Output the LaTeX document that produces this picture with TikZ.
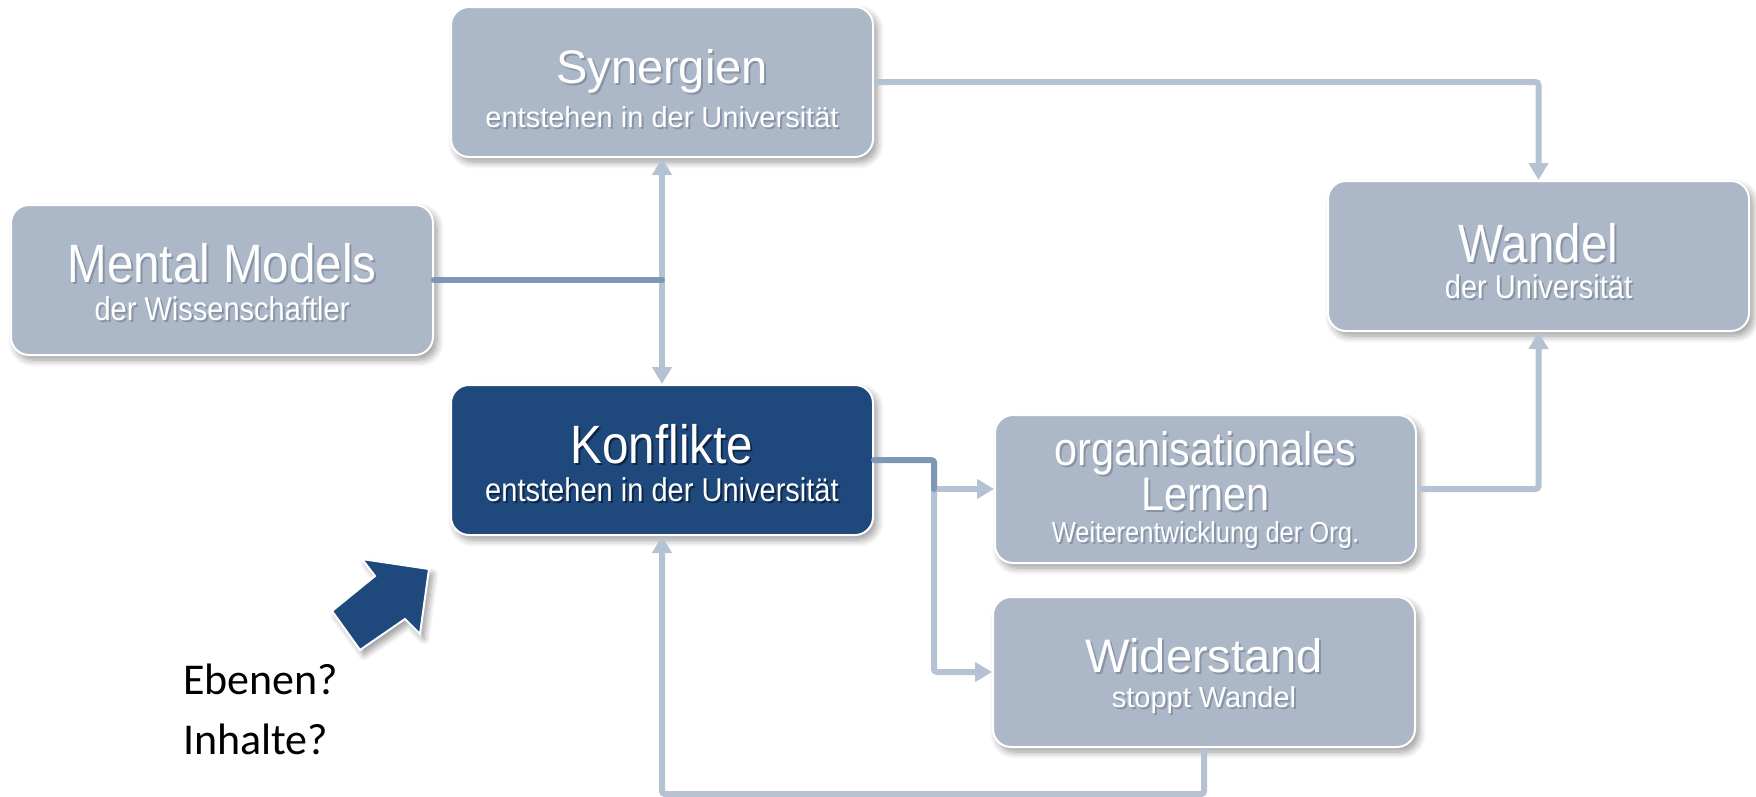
\documentclass[tikz,border=0pt]{standalone}
\usepackage{fontspec}
\setmainfont{Liberation Sans}
\newfontfamily\arialf{Liberation Sans}
\newfontfamily\narrowf[FakeStretch=0.88]{Liberation Sans}
\newfontfamily\calf{Carlito}
\usetikzlibrary{arrows.meta,shadows,shadows.blur,calc}
\definecolor{boxgray}{HTML}{ACB8C7}
\definecolor{konfblue}{HTML}{1F497D}
\definecolor{connlight}{HTML}{B4C2D4}
\definecolor{conndark}{HTML}{7E97B5}
\definecolor{tshadow}{HTML}{8894A5}
\definecolor{kshadow}{HTML}{0E2645}
\newcommand\shtx[2]{\makebox[0pt][l]{\hspace{2pt}\raisebox{-2pt}{\textcolor{#1}{#2}}}#2}
\begin{document}
\begin{tikzpicture}[x=1pt,y=-1pt,
  box/.style={rounded corners=18pt, draw=white, line width=2pt, fill=boxgray,
    minimum width=422pt, minimum height=150pt, inner sep=0pt,
    blur shadow={shadow xshift=4pt, shadow yshift=-5pt, shadow blur steps=8, shadow blur radius=7pt, shadow opacity=40}},
  ttl/.style={anchor=base, text=white, inner sep=0pt, font=\arialf\fontsize{47}{50}\selectfont},
  sub/.style={anchor=base, text=white, inner sep=0pt, font=\arialf\fontsize{29}{32}\selectfont},
  nttl/.style={anchor=base, text=white, inner sep=0pt, font=\narrowf\fontsize{54}{58}\selectfont},
  nsub/.style={anchor=base, text=white, inner sep=0pt, font=\narrowf\fontsize{33}{36}\selectfont},
  conn/.style={draw=connlight, line width=6pt, rounded corners=3pt},
  dconn/.style={draw=conndark, line width=6pt, line cap=round, rounded corners=3pt},
  tip/.tip={Triangle[width=19pt,length=17pt]},
  qtext/.style={anchor=base west, inner sep=0pt, font=\calf\fontsize{44}{50}\selectfont},
  bigarrow/.style={fill=konfblue, draw=white, line width=2pt, line join=miter,
    blur shadow={shadow xshift=4pt, shadow yshift=-5pt, shadow blur steps=8, shadow blur radius=6pt, shadow opacity=40}}
]
\useasboundingbox (0,0) rectangle (1756,796);

% boxes
\node[box] (syn) at (662,82) {};
\node[box] (mm) at (222,280) {};
\node[box, fill=konfblue] (konf) at (662,460) {};
\node[box, minimum width=421pt] (wan) at (1538.5,256) {};
\node[box, minimum width=421pt, minimum height=148pt] (org) at (1205.5,489) {};
\node[box] (wid) at (1204,672) {};

% texts
\node[ttl] (synA) at (662,83) {\shtx{tshadow}{Synergien}};
\node[sub] (synB) at (662,127) {\shtx{tshadow}{entstehen in der Universität}};
\node[nttl] (mmA) at (222,282) {\shtx{tshadow}{Mental Models}};
\node[nsub] (mmB) at (222,320) {\shtx{tshadow}{der Wissenschaftler}};
\node[nttl] (konfA) at (662,463) {\shtx{kshadow}{Konflikte}};
\node[nsub] (konfB) at (662,501) {\shtx{kshadow}{entstehen in der Universität}};
\node[nttl] (wanA) at (1538.5,262) {\shtx{tshadow}{Wandel}};
\node[nsub] (wanB) at (1538.5,298) {\shtx{tshadow}{der Universität}};
\node[nttl, font=\narrowf\fontsize{47}{50}\selectfont] (orgA) at (1205.5,465) {\shtx{tshadow}{organisationales}};
\node[nttl, font=\narrowf\fontsize{47}{50}\selectfont] (orgB) at (1205.5,510) {\shtx{tshadow}{Lernen}};
\node[nsub, font=\narrowf\fontsize{29}{32}\selectfont] (orgC) at (1205.5,542) {\shtx{tshadow}{Weiterentwicklung der Org.}};
\node[ttl] (widA) at (1204,672) {\shtx{tshadow}{Widerstand}};
\node[sub] (widB) at (1204,707) {\shtx{tshadow}{stoppt Wandel}};

% connectors
\draw[conn, -{tip}] (syn.east) -| (wan.north);
\draw[conn, {tip}-{tip}] (syn.south) -- (konf.north);
\draw[dconn] (mm.east) -- (mm.east -| syn.south);
\coordinate (jtop) at ($(konf.east)+(60,0)$);
\coordinate (jbr) at (jtop |- org.west);
\draw[conn, -{tip}] (jtop) |- (wid.west);
\draw[conn, -{tip}] (jbr) -- (org.west);
\draw[dconn] (konf.east) -| (jbr);
\draw[conn, -{tip}] (org.east) -| (wan.south);
\draw[conn, -{tip}] (wid.south) -- ++(0,46) -| (konf.south);

% big arrow
\draw[bigarrow] (362,559) -- (429,569) -- (420,634) -- (405,619) -- (360,650) -- (332,611) -- (375,576) -- cycle;

% question text
\node[qtext] (ebenen) at (183,694) {Ebenen?};
\node[qtext] (inhalte) at (183,754) {Inhalte?};
\end{tikzpicture}
\end{document}
